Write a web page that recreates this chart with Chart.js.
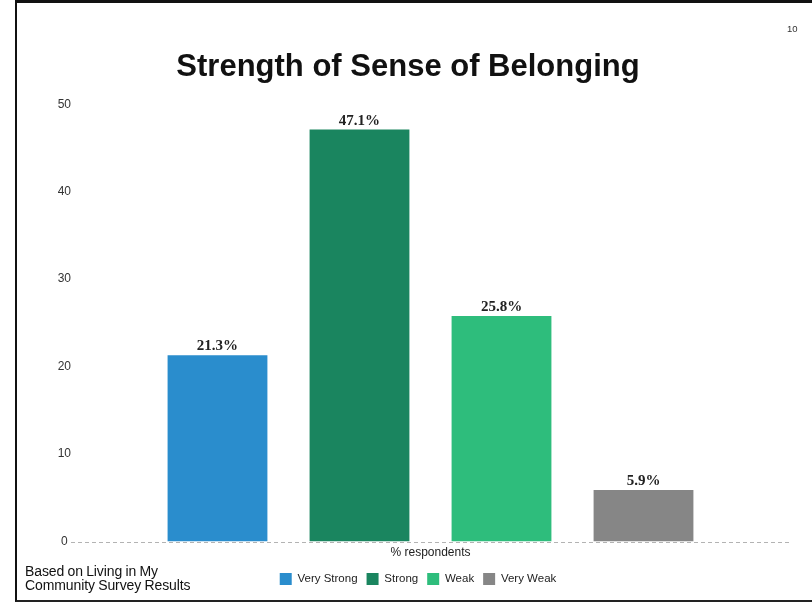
<!DOCTYPE html>
<html>
<head>
<meta charset="utf-8">
<script src="https://cdn.jsdelivr.net/npm/chart.js@4.4.1/dist/chart.umd.min.js"></script>
<style>
  html, body { margin: 0; padding: 0; background: #fff; }
  #page { position: relative; width: 812px; height: 602px; overflow: hidden; }
  #page canvas { position: absolute; left: 0; top: 0; }
  #frame {
    position: absolute; left: 15px; top: 0; width: 795px; height: 597px;
    border-left: 2px solid #111; border-top: 3px solid #111;
    border-bottom: 2px solid #222; border-right: 1px solid #c8c8c8;
    pointer-events: none;
  }
  #page-num {
    position: absolute; left: 787px; top: 23px;
    font: 9.5px "Liberation Sans", Arial, sans-serif; color: #333;
  }
  #source {
    position: absolute; left: 25px; top: 564px;
    font: 14px/14px "Liberation Sans", Arial, sans-serif; color: #111;
    letter-spacing: -0.1px; word-spacing: -0.5px;
  }
</style>
</head>
<body>
<div id="page">
  <canvas id="chart" width="812" height="602"></canvas>
  <div id="frame"></div>
  <div id="page-num">10</div>
  <div id="source">Based on Living in My<br>Community Survey Results</div>
</div>
<script>
const categories = ["% respondents"];
const seriesNames = ["Very Strong", "Strong", "Weak", "Very Weak"];
const seriesValues = [21.3, 47.1, 25.8, 5.9];
const seriesColors = ["#2a8dcd", "#1a855f", "#2ebd7c", "#868686"];
const yTicks = [0, 10, 20, 30, 40, 50];

const fontSans = "'Liberation Sans', Arial, sans-serif";

// value labels on top of each bar
const barLabels = {
  id: "barLabels",
  afterDatasetsDraw(chart) {
    const { ctx } = chart;
    ctx.save();
    ctx.font = "bold 15px 'Liberation Serif', 'Times New Roman', serif";
    ctx.fillStyle = "#222";
    ctx.textAlign = "center";
    ctx.textBaseline = "alphabetic";
    chart.data.datasets.forEach((ds, i) => {
      const meta = chart.getDatasetMeta(i);
      meta.data.forEach((bar, j) => {
        ctx.fillText(ds.data[j].toFixed(1) + "%", bar.x, bar.y - 5);
      });
    });
    ctx.restore();
  },
};

// dashed baseline at zero
const zeroLine = {
  id: "zeroLine",
  afterDatasetsDraw(chart) {
    const { ctx, chartArea } = chart;
    const y = Math.round(chart.scales.y.getPixelForValue(0)) + 0.5;
    ctx.save();
    ctx.strokeStyle = "#b3b3b3";
    ctx.lineWidth = 1;
    ctx.setLineDash([4, 3]);
    ctx.beginPath();
    ctx.moveTo(chartArea.left, y);
    ctx.lineTo(chartArea.right, y);
    ctx.stroke();
    ctx.restore();
  },
};

// the slide title sits a little left of the plot centre
const titleNudge = {
  id: "titleNudge",
  afterLayout(chart) {
    if (!chart.titleBlock) return;
    chart.titleBlock.left -= 10;
    chart.titleBlock.right -= 10;
  },
};

new Chart(document.getElementById("chart"), {
  type: "bar",
  data: {
    labels: categories,
    datasets: seriesNames.map((name, i) => ({
      label: name,
      data: [seriesValues[i]],
      backgroundColor: seriesColors[i],
      borderWidth: 0,
    })),
  },
  options: {
    responsive: false,
    animation: false,
    devicePixelRatio: 1,
    categoryPercentage: 0.79,
    barPercentage: 0.703,
    layout: { padding: { left: 46, right: 22, top: 0, bottom: 7 } },
    plugins: {
      title: {
        display: true,
        text: "Strength of Sense of Belonging",
        color: "#111",
        font: { family: fontSans, size: 31, weight: "bold" },
        padding: { top: 49, bottom: 18 },
      },
      legend: {
        position: "bottom",
        labels: {
          boxWidth: 12,
          boxHeight: 12,
          padding: 9,
          color: "#222",
          font: { family: fontSans, size: 11.5 },
        },
      },
      tooltip: { enabled: false },
    },
    scales: {
      x: {
        grid: { display: false, drawTicks: false },
        border: { display: false },
        ticks: { color: "#222", padding: 4, font: { family: fontSans, size: 12 } },
      },
      y: {
        min: yTicks[0],
        max: yTicks[yTicks.length - 1],
        afterBuildTicks: (axis) => {
          axis.ticks = yTicks.map((v) => ({ value: v }));
        },
        afterFit: (axis) => {
          axis.width = 25;
        },
        grid: { display: false, drawTicks: false },
        border: { display: false },
        ticks: {
          crossAlign: "center",
          color: "#333",
          padding: 0,
          font: { family: fontSans, size: 12 },
        },
      },
    },
  },
  plugins: [barLabels, zeroLine, titleNudge],
});
</script>
</body>
</html>
